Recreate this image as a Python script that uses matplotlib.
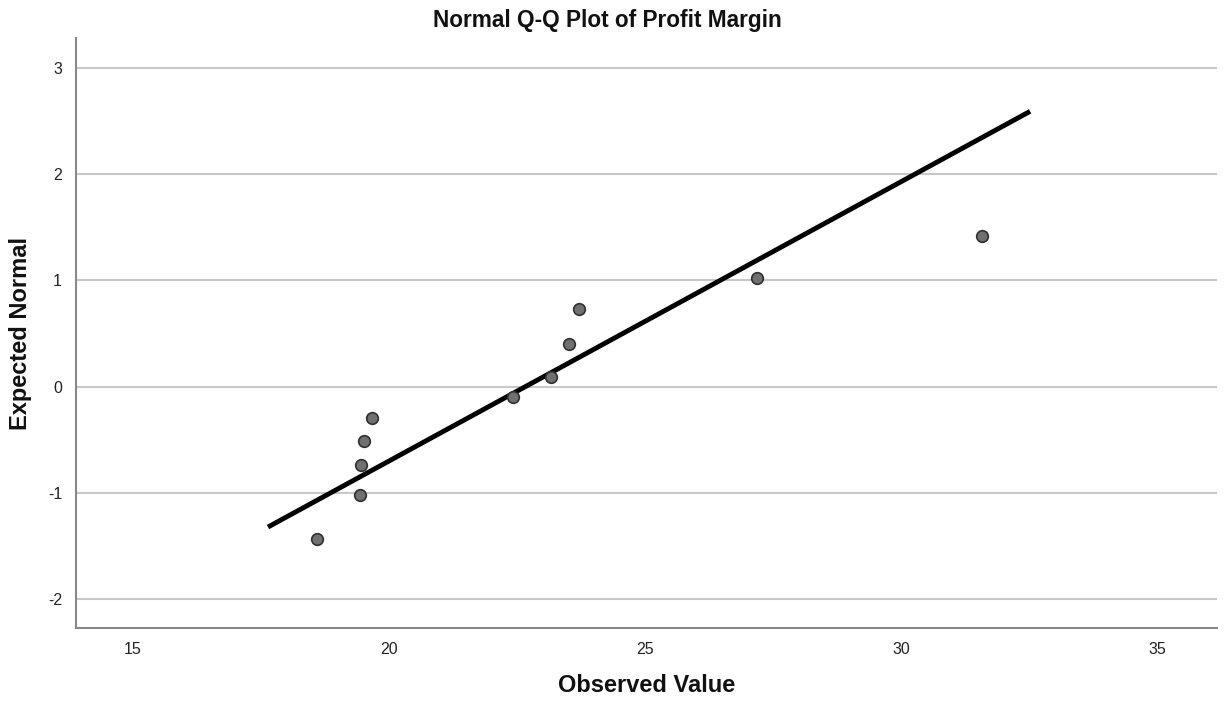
import matplotlib
matplotlib.use("Agg")
import matplotlib.pyplot as plt

plt.rcParams['font.family'] = ['Liberation Sans', 'DejaVu Sans']
plt.rcParams['axes.unicode_minus'] = False

observed = [18.59, 19.44, 19.45, 19.51, 19.67, 22.42, 23.16, 23.52, 23.71, 27.19, 31.58]
expected = [-1.43, -1.02, -0.74, -0.51, -0.29, -0.10, 0.09, 0.40, 0.73, 1.02, 1.42]
line_x = [17.64, 32.52]
line_y = [-1.32, 2.59]
xticks = [15, 20, 25, 30, 35]
yticks = [-2, -1, 0, 1, 2, 3]

fig = plt.figure(figsize=(12.25, 7.02), dpi=100)
ax = fig.add_axes([0.062, 0.1054, 0.9315, 0.8405])

for y in yticks:
    ax.axhline(y, color='#c8c8c8', lw=1.5, zorder=0)

ax.plot(line_x, line_y, color='black', lw=3.5, solid_capstyle='butt', zorder=2)
ax.scatter(observed, expected, s=70, facecolor='#707070', edgecolor='#303030', linewidths=1.2, zorder=3)

ax.set_xlim(13.89, 36.17)
ax.set_ylim(-2.27, 3.28)
ax.set_xticks(xticks)
ax.set_yticks(yticks)
ax.tick_params(length=0, labelsize=11.5, colors='#222222', pad=10)
for s in ['top', 'right']:
    ax.spines[s].set_visible(False)
for s in ['left', 'bottom']:
    ax.spines[s].set_color('#888888')
    ax.spines[s].set_linewidth(1.5)

fig.text(607 / 1225, 1 - 20 / 702, 'Normal Q-Q Plot of Profit Margin', fontsize=16.3,
         fontweight='bold', ha='center', va='center', color='#111111')
fig.text(647 / 1225, 1 - 686 / 702, 'Observed Value', fontsize=17,
         fontweight='bold', ha='center', va='center', color='#111111')
fig.text(20 / 1225, 1 - 334 / 702, 'Expected Normal', fontsize=17, rotation=90,
         fontweight='bold', ha='center', va='center', color='#111111')

fig.savefig('out.png', dpi=100)
